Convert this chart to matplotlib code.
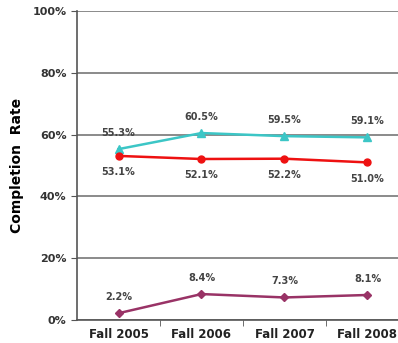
import matplotlib.pyplot as plt
from matplotlib.ticker import FuncFormatter

terms = ["Fall 2005", "Fall 2006", "Fall 2007", "Fall 2008"]
rate_top = [55.3, 60.5, 59.5, 59.1]
rate_mid = [53.1, 52.1, 52.2, 51.0]
rate_low = [2.2, 8.4, 7.3, 8.1]

fig = plt.figure(figsize=(3.98, 3.43), dpi=100)
ax = fig.add_axes([0.1935, 0.067, 0.834, 0.901])

x = range(len(terms))
ax.plot(x, rate_top, color="#3CC6C6", lw=1.8, marker="^", ms=6, zorder=3)
ax.plot(x, rate_mid, color="#EE1111", lw=1.8, marker="o", ms=5, zorder=3)
ax.plot(x, rate_low, color="#993366", lw=1.8, marker="D", ms=4.5, zorder=3)

lab = dict(ha="center", fontsize=7, fontweight="bold", color="#444444")
for i in x:
    ax.annotate(f"{rate_top[i]:.1f}%", (i, rate_top[i]), xytext=(0, 8),
                textcoords="offset points", va="bottom", **lab)
    ax.annotate(f"{rate_mid[i]:.1f}%", (i, rate_mid[i]), xytext=(0, -8),
                textcoords="offset points", va="top", **lab)
    ax.annotate(f"{rate_low[i]:.1f}%", (i, rate_low[i]), xytext=(0, 8),
                textcoords="offset points", va="bottom", **lab)

ax.set_xlim(-0.5, len(terms) - 0.5)
ax.set_ylim(0, 100)
ax.set_yticks(range(0, 101, 20))
ax.yaxis.set_major_formatter(FuncFormatter(lambda v, _: f"{v:.0f}%"))
ax.set_xticks(list(x))
ax.set_xticklabels(terms, fontsize=8.5, fontweight="bold", color="#222222")
ax.set_xticks([0.5, 1.5, 2.5], minor=True)
ax.tick_params(axis="x", which="major", length=0, pad=6)
ax.tick_params(axis="x", which="minor", length=4, color="#555555")
ax.tick_params(axis="y", length=4, color="#555555", labelsize=8,
               labelcolor="#333333")
for t in ax.get_yticklabels():
    t.set_fontweight("bold")

ax.grid(axis="y", color="#777777", lw=1.2)
ax.set_axisbelow(True)
for side in ("top", "right"):
    ax.spines[side].set_visible(False)
for side in ("left", "bottom"):
    ax.spines[side].set_color("#555555")
    ax.spines[side].set_linewidth(1.2)

ax.set_ylabel("Completion  Rate", fontsize=10, fontweight="bold", labelpad=6)

fig.savefig("out.png", dpi=100)
